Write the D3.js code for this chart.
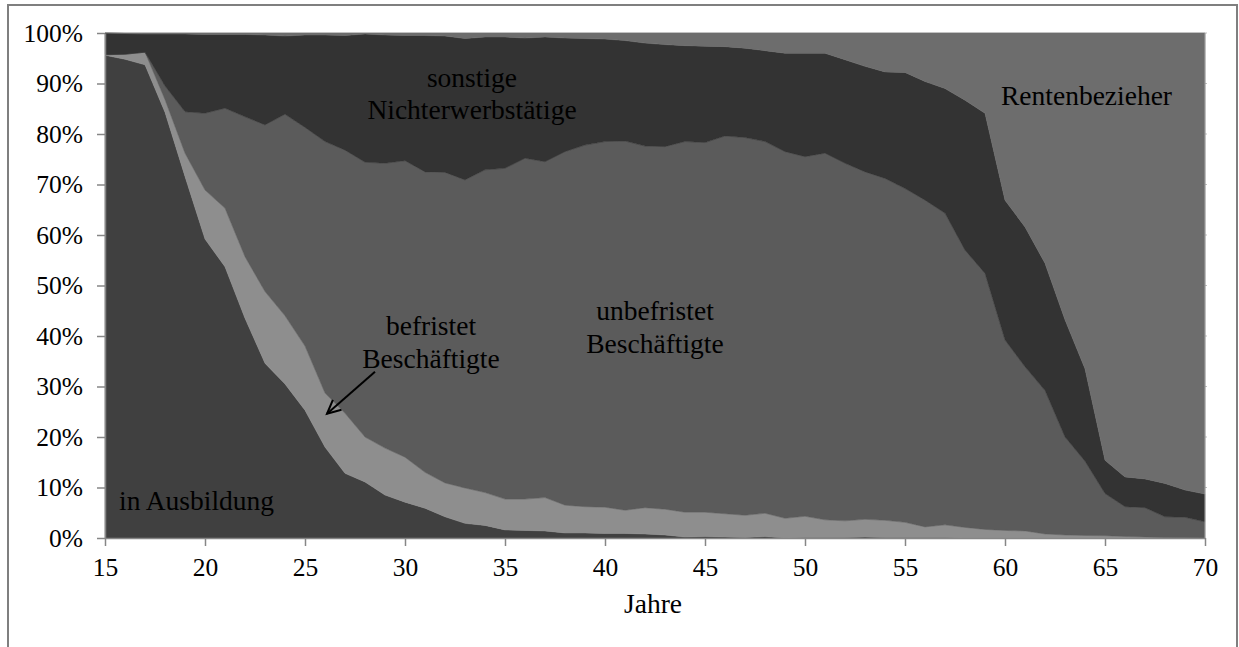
<!DOCTYPE html>
<html>
<head>
<meta charset="utf-8">
<script src="https://cdn.jsdelivr.net/npm/d3@7"></script>
<style>
  html, body { margin: 0; padding: 0; background: #fff; }
  svg { display: block; }
  text { font-family: "Liberation Serif", "Times New Roman", serif; fill: #000; }
</style>
</head>
<body>
<svg id="chart" width="1239" height="647"></svg>
<script>
// Ages (x categories)
const ages = d3.range(15, 71);

// Shares in percent per age 15..70
const inAusbildung = [95.6,94.8,93.7,84.3,71.6,59.2,53.7,43.5,34.6,30.5,25.3,18.0,12.8,11.1,8.5,7.1,5.9,4.2,2.9,2.5,1.6,1.5,1.4,1.0,1.0,0.9,0.9,0.8,0.6,0.2,0.3,0.2,0.1,0.3,0.0,0.1,0.1,0.1,0.2,0.1,0.1,0.1,0.1,0.0,0.0,0.0,0.0,0.0,0.0,0.0,0.0,0.0,0.0,0.0,0.0,0.0];
const befristet = [0.1,1.0,2.5,2.5,4.6,9.7,11.6,12.2,14.2,13.5,12.7,10.7,11.9,8.9,9.3,8.9,7.1,6.7,7.0,6.5,6.1,6.2,6.6,5.5,5.2,5.2,4.6,5.2,5.1,4.9,4.8,4.6,4.4,4.6,3.9,4.2,3.5,3.3,3.5,3.4,3.0,2.1,2.5,2.1,1.7,1.5,1.4,0.8,0.6,0.5,0.45,0.3,0.2,0.1,0.05,0.0];
const unbefristet = [0.0,0.0,0.0,2.7,8.2,15.2,19.8,27.7,33.0,39.9,43.3,49.8,52.1,54.4,56.4,58.7,59.5,61.5,61.0,63.9,65.5,67.5,66.5,70.0,71.6,72.4,73.1,71.6,71.8,73.4,73.2,74.8,74.8,73.6,72.6,71.2,72.6,70.8,68.8,67.7,66.1,64.7,61.7,54.9,50.7,37.7,32.5,28.4,19.4,14.7,8.35,5.9,5.8,4.1,4.05,3.2];
const sonstige = [4.3,4.1,3.6,10.3,15.4,15.6,14.6,16.3,17.8,15.5,18.3,21.1,22.7,25.4,25.4,24.8,27.0,27.0,28.0,26.3,26.0,23.8,24.7,22.5,21.1,20.3,19.9,20.4,20.2,19.0,19.1,17.7,17.7,18.0,19.5,20.5,19.8,20.5,20.9,21.1,23.0,23.5,24.7,29.7,31.7,27.7,27.7,25.2,23.2,18.3,6.6,5.9,5.7,6.6,5.4,5.5];
const rente = [0.0,0.1,0.2,0.2,0.2,0.3,0.3,0.3,0.4,0.6,0.4,0.4,0.5,0.2,0.4,0.5,0.5,0.6,1.1,0.8,0.8,1.0,0.8,1.0,1.1,1.2,1.5,2.0,2.3,2.5,2.6,2.7,3.0,3.5,4.0,4.0,4.0,5.3,6.6,7.7,7.8,9.6,11.0,13.3,15.9,33.1,38.4,45.6,56.8,66.5,84.6,87.9,88.3,89.2,90.5,91.3];

const seriesKeys = ["inAusbildung", "befristet", "unbefristet", "sonstige", "rente"];
const seriesColors = ["#404040", "#8e8e8e", "#5b5b5b", "#333333", "#6d6d6d"];

const xTicks = [15, 20, 25, 30, 35, 40, 45, 50, 55, 60, 65, 70];
const yTicks = [0, 10, 20, 30, 40, 50, 60, 70, 80, 90, 100];

(function () {
const table = ages.map((a, i) => ({
  age: a,
  inAusbildung: inAusbildung[i],
  befristet: befristet[i],
  unbefristet: unbefristet[i],
  sonstige: sonstige[i],
  rente: rente[i]
}));

const svg = d3.select("#chart");
const mL = 105, mR = 1205, mT = 33, mB = 538;

svg.append("rect").attr("x", 8).attr("y", 5).attr("width", 1229).attr("height", 700)
  .attr("fill", "none").attr("stroke", "#7f7f7f").attr("stroke-width", 2);

const x = d3.scaleLinear().domain([15, 70]).range([mL, mR]);
const y = d3.scaleLinear().domain([0, 100]).range([mB, mT]);

svg.append("g").selectAll("line").data(yTicks.filter(d => d > 0)).join("line")
  .attr("x1", mL).attr("x2", mR + 2)
  .attr("y1", d => y(d)).attr("y2", d => y(d))
  .attr("stroke", "#bdbdbd").attr("stroke-width", 1);

const stacked = d3.stack().keys(seriesKeys)(table);

const area = d3.area()
  .x(d => x(d.data.age))
  .y0(d => y(d[0]))
  .y1(d => y(Math.min(100, d[1])));

svg.append("g").selectAll("path").data(stacked).join("path")
  .attr("d", area)
  .attr("fill", (d, i) => seriesColors[i])
  .attr("stroke", (d, i) => seriesColors[i])
  .attr("stroke-width", 0.5);

svg.append("line").attr("x1", mR).attr("x2", mR).attr("y1", mT).attr("y2", mB)
  .attr("stroke", "#a6a6a6").attr("stroke-width", 1);

const fontFam = '"Liberation Serif", "Times New Roman", serif';
const yAxis = d3.axisLeft(y).tickValues(yTicks).tickFormat(d => d + "%")
  .tickSize(8).tickSizeOuter(0).tickPadding(14);
const gy = svg.append("g").attr("transform", `translate(${mL},0)`).call(yAxis);
gy.attr("font-family", fontFam);
gy.selectAll("text").style("font-size", "25.5px").style("font-family", fontFam).attr("fill", "#000");
gy.selectAll("line, path").attr("stroke", "#868686").attr("stroke-width", 1.5);

const xAxis = d3.axisBottom(x).tickValues(xTicks).tickFormat(d3.format("d"))
  .tickSize(8).tickSizeOuter(0).tickPadding(12);
const gx = svg.append("g").attr("transform", `translate(0,${mB})`).call(xAxis);
gx.attr("font-family", fontFam);
gx.selectAll("text").style("font-size", "25.5px").style("font-family", fontFam).attr("fill", "#000");
gx.selectAll("line, path").attr("stroke", "#868686").attr("stroke-width", 1.5);

svg.append("text").attr("x", x(42.4)).attr("y", 613).attr("text-anchor", "middle")
  .style("font-size", "27.5px").text("Jahre");

function label(ax, py, txt, anchor) {
  svg.append("text").attr("x", x(ax)).attr("y", y(py))
    .attr("text-anchor", anchor || "middle").style("font-size", "27.5px").text(txt);
}
label(33.35, 89.3, "sonstige");
label(33.35, 82.9, "Nichterwerbstätige");
label(59.8, 85.8, "Rentenbezieher", "start");
label(31.3, 40.2, "befristet");
label(31.3, 33.7, "Beschäftigte");
label(42.5, 43.2, "unbefristet");
label(42.5, 36.6, "Beschäftigte");
label(15.7, 5.5, "in Ausbildung", "start");

const tip = [x(26.1), y(24.6)], tail = [x(28.5), y(32.9)];
const ang = Math.atan2(tail[1] - tip[1], tail[0] - tip[0]);
const hl = 15, spread = 0.45;
const p1 = [tip[0] + hl * Math.cos(ang - spread), tip[1] + hl * Math.sin(ang - spread)];
const p2 = [tip[0] + hl * Math.cos(ang + spread), tip[1] + hl * Math.sin(ang + spread)];
svg.append("line").attr("x1", tail[0]).attr("y1", tail[1]).attr("x2", tip[0]).attr("y2", tip[1])
  .attr("stroke", "#000").attr("stroke-width", 2);
svg.append("path").attr("d", `M${p1[0]},${p1[1]}L${tip[0]},${tip[1]}L${p2[0]},${p2[1]}`)
  .attr("fill", "none").attr("stroke", "#000").attr("stroke-width", 2);
})();
</script>
</body>
</html>
